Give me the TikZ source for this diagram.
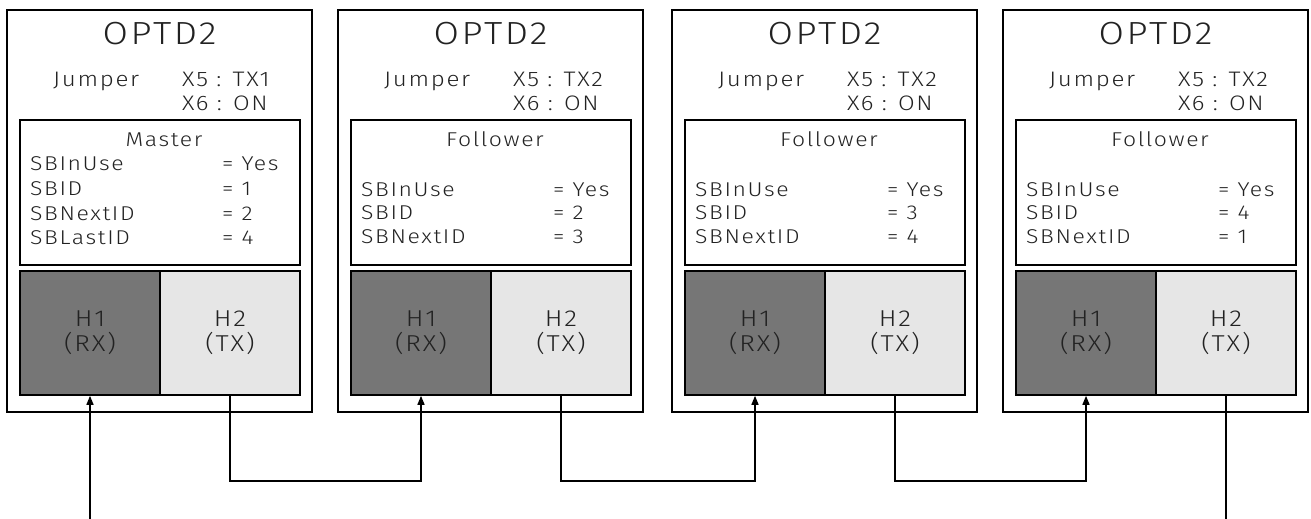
\documentclass[tikz,border=0pt]{standalone}
\usepackage{fontspec}
\setmainfont{Fira Sans Light}[LetterSpace=8, FakeStretch=1.15]
\usetikzlibrary{arrows.meta}
\definecolor{rxgray}{HTML}{767676}
\definecolor{txgray}{HTML}{E6E6E6}
\definecolor{txtcol}{HTML}{222222}
\tikzset{
  outerbox/.style={draw, line width=1.2pt, minimum width=305pt, minimum height=402pt, inner sep=0pt},
  infobox/.style={draw, line width=1.2pt, minimum width=280pt, minimum height=145pt, inner sep=0pt},
  hdr/.style={draw, line width=1.6pt, minimum width=140pt, minimum height=124pt, inner sep=0pt,
    align=center, text=txtcol, font=\fontsize{23}{25}\selectfont},
  rxbox/.style={hdr, fill=rxgray},
  txbox/.style={hdr, fill=txgray},
  lbl/.style={inner sep=0pt, anchor=base west, text=txtcol, font=\fontsize{20}{24}\selectfont},
  jlbl/.style={lbl, font=\fontsize{21}{24}\selectfont},
  ttl/.style={inner sep=0pt, anchor=base, text=txtcol, font=\fontsize{32}{36}\selectfont},
  role/.style={inner sep=0pt, anchor=base, text=txtcol, font=\fontsize{20}{24}\selectfont},
  conn/.style={line width=1.4pt},
  arr/.style={conn, -{Triangle[length=9pt,width=7pt]}}
}
\newcommand{\optdbox}[5]{%
  \begin{scope}[shift={(#2,0)}]
    \node[outerbox] (o#1) at (152.5,211) {};
    \node[ttl] (t#1) at (152.5,45) {OPTD2};
    \node[jlbl] (j#1) at (46,86) {Jumper};
    \node[jlbl] (xa#1) at (175,86) {X5 : #3};
    \node[jlbl] (xb#1) at (175,110) {X6 : ON};
    \node[infobox] (i#1) at (153,192.5) {};
    \node[role] (r#1) at (157,146) {#4};
    \foreach \k/\v/\yy [count=\n] in {#5} {
      \node[lbl] (k#1-\n) at (23,\yy) {\k};
      \node[lbl] (v#1-\n) at (215,\yy) {= \v};
    }
    \node[rxbox] (h1#1) at (83,333) {H1\\(RX)};
    \node[txbox] (h2#1) at (223,333) {H2\\(TX)};
  \end{scope}}
\begin{document}
\begin{tikzpicture}[x=1pt,y=-1pt]
  \useasboundingbox (0,0) rectangle (1311,519);
  \optdbox{a}{7}{TX1}{Master}{SBInUse/Yes/170, SBID/1/195, SBNextID/2/220, SBLastID/4/244}
  \optdbox{b}{338}{TX2}{Follower}{SBInUse/Yes/196, SBID/2/219, SBNextID/3/243}
  \optdbox{c}{672}{TX2}{Follower}{SBInUse/Yes/196, SBID/3/219, SBNextID/4/243}
  \optdbox{d}{1003}{TX2}{Follower}{SBInUse/Yes/196, SBID/4/219, SBNextID/1/243}
  \coordinate (bus) at (0,481);
  \coordinate (bot) at (0,519);
  \coordinate (inp) at (h1a.south |- bot);
  \coordinate (outp) at (h2d.south |- bot);
  \draw[arr] (inp) -- (h1a.south);
  \draw[arr] (h2a.south) -- (h2a.south |- bus) -| (h1b.south);
  \draw[arr] (h2b.south) -- (h2b.south |- bus) -| (h1c.south);
  \draw[arr] (h2c.south) -- (h2c.south |- bus) -| (h1d.south);
  \draw[conn] (h2d.south) -- (outp);
\end{tikzpicture}
\end{document}
